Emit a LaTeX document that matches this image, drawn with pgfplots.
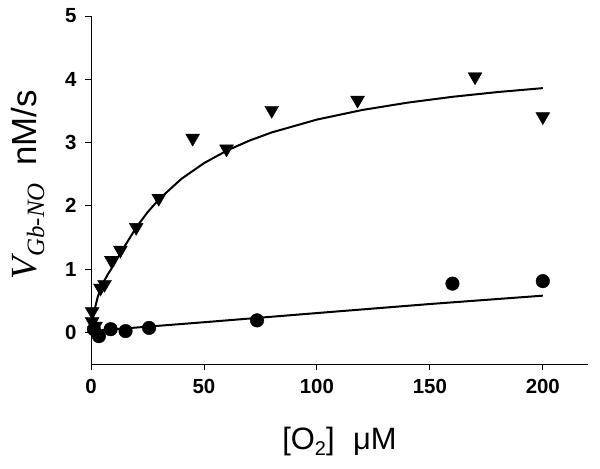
\documentclass[border=0pt]{standalone}
\usepackage{fontspec}
\setmainfont{Liberation Sans}
\newfontfamily\timesf{Liberation Serif}
\usepackage{pgfplots}
\pgfplotsset{compat=1.18}

\begin{document}
\begin{tikzpicture}
\path[use as bounding box] (0,0) rectangle (600bp,469bp);
\begin{axis}[
    at={(91bp,105bp)}, anchor=south west,
    width=497bp, height=348bp, scale only axis,
    xmin=0, xmax=220, ymin=-0.5, ymax=5,
    axis lines=left,
    axis line style={-, line width=0.9bp},
    xtick={0,50,100,150,200},
    ytick={0,1,2,3,4,5},
    tick align=outside,
    major tick length=6bp,
    tick style={line width=0.9bp, black},
    ticklabel style={font=\fontsize{20.5}{20.5}\selectfont\bfseries},
    xticklabel style={yshift=-6bp},
    yticklabel style={xshift=-5bp},
    /pgf/number format/assume math mode=true,
    clip=false,
    xlabel={[O\raisebox{-0.35ex}{\fontsize{20}{20}\selectfont 2}]\hspace{0.6em}μM},
    xlabel style={font=\fontsize{31}{31}\selectfont, at={(axis description cs:0.5,-0.224)}, anchor=center},
    ylabel={{\timesf\itshape\fontsize{37}{37}\selectfont V}\raisebox{-0.4ex}{\timesf\itshape\fontsize{25}{25}\selectfont Gb-NO}\hspace{0.5em}nM/s},
    ylabel style={font=\fontsize{35}{35}\selectfont, at={(axis description cs:-0.127,0.515)}, anchor=center},
]
% fitted curves
\addplot[black, line width=2bp, no marks] coordinates {
    (0.5,0.12) (1,0.24) (2,0.42) (3,0.56) (4,0.67) (5,0.76) (7.5,0.92)
    (10,1.06) (12.5,1.22) (15,1.367) (20,1.656) (25,1.897) (30,2.10)
    (40,2.426) (50,2.674) (60,2.87) (70,3.029) (80,3.16) (100,3.363)
    (120,3.514) (140,3.63) (160,3.723) (180,3.798) (200,3.86)
};
\addplot[black, line width=2bp, no marks] coordinates {
    (0,0.02) (50,0.16) (100,0.305) (150,0.448) (200,0.58)
};
% triangles
\addplot[only marks, mark=triangle*, mark size=8bp,
    mark options={rotate=180, fill=black, draw=black}] coordinates {
    (0.5,0.33) (0.5,0.17) (2,0.10) (4.2,0.70) (6,0.76) (9,1.14) (13,1.30)
    (20,1.66) (30,2.12) (45,3.07) (60,2.90) (80,3.51) (118,3.67)
    (170,4.04) (200,3.41)
};
% circles
\addplot[only marks, mark=*, mark size=6.8bp,
    mark options={fill=black, draw=black}] coordinates {
    (1.3,0.05) (3.5,-0.06) (8.7,0.05) (15.3,0.02) (25.7,0.07)
    (73.5,0.19) (160,0.77) (200,0.81)
};
\end{axis}
\end{tikzpicture}
\end{document}
